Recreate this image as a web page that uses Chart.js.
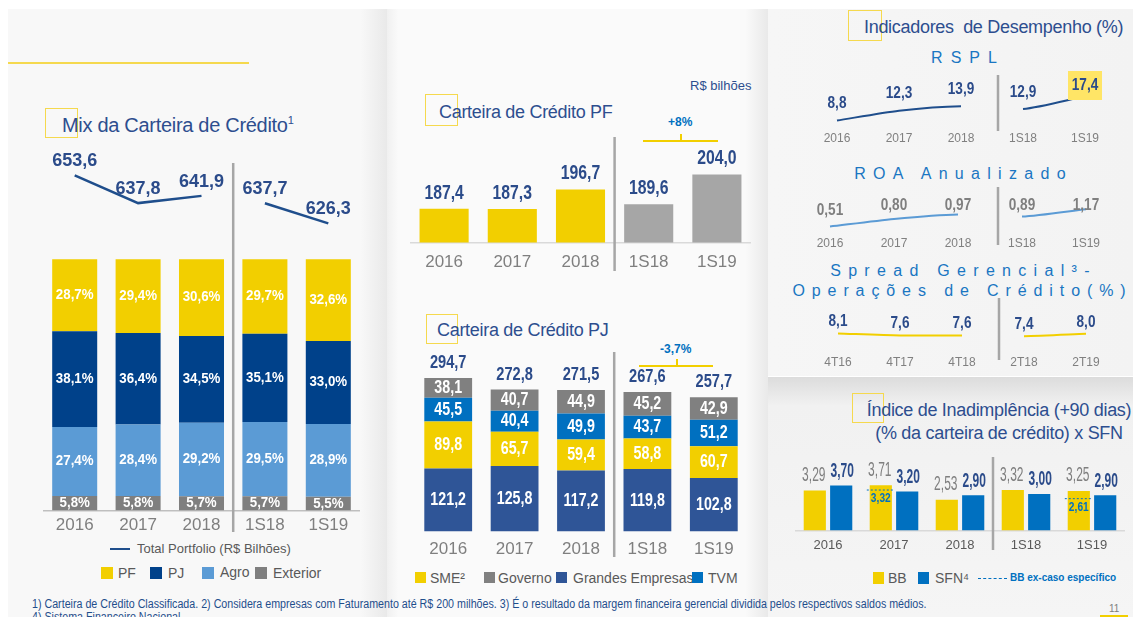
<!DOCTYPE html>
<html>
<head>
<meta charset="utf-8">
<script src="https://cdn.jsdelivr.net/npm/chart.js@4.4.1/dist/chart.umd.min.js"></script>
<style>
  body { margin:0; background:#fff; font-family:'Liberation Sans', Arial, sans-serif; }
  #slide { position:relative; width:1133px; height:617px; overflow:hidden; background:#fff; }
  .panel { position:absolute; }
  canvas { position:absolute; }
  .t { position:absolute; white-space:nowrap; line-height:1; }
  .title { color:#2d4e8f; font-size:18px; letter-spacing:-0.3px; }
  .sq { position:absolute; border:1px solid #f5d94e; box-sizing:border-box; }
  .box { position:absolute; }
  .sub { position:absolute; color:#1a76c2; font-size:16px; letter-spacing:7.3px; text-align:center; white-space:nowrap; line-height:1; }
  .lg { position:absolute; color:#595959; font-size:14px; white-space:nowrap; line-height:1; }
</style>
</head>
<body>
<div id="slide">
  <!-- panels -->
  <div class="panel" style="left:8px;top:9px;width:379px;height:608px;background:linear-gradient(to right,#f8f8f8 0,#f8f8f8 93%,#e9e9e9 100%);"></div>
  <div class="panel" style="left:387px;top:9px;width:381px;height:608px;background:linear-gradient(to right,#f0f0f0 0,#fafafa 3%,#fafafa 94%,#e9e9e9 100%);"></div>
  <div class="panel" style="left:768px;top:9px;width:365px;height:367px;background:linear-gradient(to right,#f6f6f6 0,#f3f3f3 100%);"></div>
  <div class="panel" style="left:768px;top:377px;width:365px;height:240px;background:linear-gradient(to bottom,#dcdcdc 0,#f1f1f1 12%,#f5f5f5 100%);"></div>

  <!-- left panel texts -->
  <div class="box" style="left:8px;top:62px;width:241px;height:1.5px;background:#f5d94e;"></div>
  <div class="sq" style="left:45px;top:108px;width:33px;height:30px;"></div>
  <div class="t title" style="left:62px;top:115px;font-size:20px;">Mix da Carteira de Crédito<sup style="font-size:11px;vertical-align:8px;">1</sup></div>

  <canvas id="mix" width="317" height="391" style="left:43px;top:150px;"></canvas>

  <div class="box" style="left:110px;top:548px;width:20px;height:2px;background:#1f4e8c;"></div>
  <div class="lg" style="left:137px;top:542px;font-size:13px;">Total Portfolio (R$ Bilhões)</div>
  <div class="box" style="left:101px;top:567px;width:12px;height:12px;background:#f2cf00;"></div>
  <div class="lg" style="left:118px;top:566px;">PF</div>
  <div class="box" style="left:150px;top:567px;width:12px;height:12px;background:#00418a;"></div>
  <div class="lg" style="left:168px;top:566px;">PJ</div>
  <div class="box" style="left:202px;top:567px;width:12px;height:12px;background:#5b9bd5;"></div>
  <div class="lg" style="left:220px;top:565px;">Agro</div>
  <div class="box" style="left:255px;top:567px;width:12px;height:12px;background:#7f7f7f;"></div>
  <div class="lg" style="left:273px;top:566px;">Exterior</div>

  <!-- middle panel texts -->
  <div class="t" style="left:690px;top:79px;font-size:13px;color:#2d4e8f;">R$ bilhões</div>
  <div class="sq" style="left:425px;top:94px;width:33px;height:32px;"></div>
  <div class="t title" style="left:439px;top:103px;">Carteira de Crédito PF</div>
  <div class="t" style="left:668px;top:116px;font-size:12px;font-weight:bold;color:#0070c0;">+8%</div>
  <div class="box" style="left:643px;top:140px;width:75px;height:1.5px;background:#f2cf00;"></div>
  <div class="box" style="left:680px;top:134px;width:1.5px;height:7px;background:#f2cf00;"></div>

  <canvas id="pf" width="341" height="153" style="left:410px;top:130px;"></canvas>

  <div class="sq" style="left:426px;top:314px;width:32px;height:30px;"></div>
  <div class="t title" style="left:437px;top:321px;">Carteira de Crédito PJ</div>
  <div class="t" style="left:660px;top:343px;font-size:12px;font-weight:bold;color:#0070c0;">-3,7%</div>
  <div class="box" style="left:639px;top:365px;width:74px;height:1.5px;background:#f2cf00;"></div>
  <div class="box" style="left:676px;top:359px;width:1.5px;height:7px;background:#f2cf00;"></div>

  <canvas id="pj" width="332" height="223" style="left:415px;top:345px;"></canvas>

  <div class="box" style="left:415px;top:572px;width:11px;height:11px;background:#f2cf00;"></div>
  <div class="lg" style="left:430px;top:571px;">SME²</div>
  <div class="box" style="left:484px;top:572px;width:11px;height:11px;background:#808080;"></div>
  <div class="lg" style="left:498px;top:571px;">Governo</div>
  <div class="box" style="left:556px;top:572px;width:11px;height:11px;background:#2f5597;"></div>
  <div class="lg" style="left:573px;top:571px;">Grandes Empresas</div>
  <div class="box" style="left:692px;top:572px;width:11px;height:11px;background:#0070c0;"></div>
  <div class="lg" style="left:708px;top:571px;">TVM</div>

  <!-- right top texts -->
  <div class="sq" style="left:848px;top:10px;width:34px;height:31px;"></div>
  <div class="t title" style="left:864px;top:18px;">Indicadores&nbsp; de Desempenho (%)</div>
  <div class="sub" style="left:860px;top:50px;width:208px;letter-spacing:8px;text-indent:8px;">RSPL</div>
  <div class="sub" style="left:760px;top:166px;width:400px;text-indent:7px;">ROA Anualizado</div>
  <div class="sub" style="left:760px;top:263px;width:400px;text-indent:7px;">Spread Gerencial³-</div>
  <div class="sub" style="left:759px;top:283px;width:400px;letter-spacing:6.9px;text-indent:7px;">Operações de Crédito(%)</div>

  <canvas id="rspl" width="310" height="87" style="left:806px;top:65px;"></canvas>
  <canvas id="roa" width="320" height="71" style="left:798px;top:185px;"></canvas>
  <canvas id="spread" width="310" height="85" style="left:807px;top:295px;"></canvas>

  <!-- right bottom texts -->
  <div class="sq" style="left:852px;top:393px;width:32px;height:30px;"></div>
  <div class="t title" style="left:860px;top:401px;width:278px;text-align:center;">Índice de Inadimplência (+90 dias)</div>
  <div class="t title" style="left:860px;top:424px;width:278px;text-align:center;">(% da carteira de crédito) x SFN</div>

  <canvas id="inad" width="330" height="105" style="left:795px;top:455px;"></canvas>

  <div class="box" style="left:873px;top:572px;width:11px;height:12px;background:#f2cf00;"></div>
  <div class="lg" style="left:888px;top:571px;">BB</div>
  <div class="box" style="left:918px;top:572px;width:11px;height:12px;background:#0070c0;"></div>
  <div class="lg" style="left:935px;top:571px;">SFN⁴</div>
  <div class="box" style="left:978px;top:578px;width:29px;height:0;border-top:1px dashed #0070c0;"></div>
  <div class="t" style="left:1010px;top:573px;font-size:10px;font-weight:bold;color:#0070c0;">BB ex-caso específico</div>

  <!-- footer -->
  <div class="t" style="left:32px;top:598px;font-size:12px;color:#1f4e8c;transform:scaleX(0.89);transform-origin:left top;">1) Carteira de Crédito Classificada. 2) Considera empresas com Faturamento até R$ 200 milhões. 3) É o resultado da margem financeira gerencial dividida pelos respectivos saldos médios.</div>
  <div class="t" style="left:32px;top:611px;font-size:12px;color:#1f4e8c;transform:scaleX(0.89);transform-origin:left top;">4) Sistema Financeiro Nacional</div>
  <div class="t" style="left:1109px;top:604px;font-size:10px;color:#7f7f7f;">11</div>
  <div class="box" style="left:1100px;top:615px;width:28px;height:2px;background:#f2cf00;"></div>
</div>

<script>
// ---- data ----
const periods = ['2016', '2017', '2018', '1S18', '1S19'];

// Mix da Carteira de Crédito (%)
const mixPF = [28.7, 29.4, 30.6, 29.7, 32.6];
const mixPJ = [38.1, 36.4, 34.5, 35.1, 33.0];
const mixAgro = [27.4, 28.4, 29.2, 29.5, 28.9];
const mixExterior = [5.8, 5.8, 5.7, 5.7, 5.5];
const totalPortfolio = [653.6, 637.8, 641.9, 637.7, 626.3];

// Carteira PF (R$ bilhões)
const carteiraPF = [187.4, 187.3, 196.7, 189.6, 204.0];

// Carteira PJ (R$ bilhões)
const pjGrandes = [121.2, 125.8, 117.2, 119.8, 102.8];
const pjSME = [89.8, 65.7, 59.4, 58.8, 60.7];
const pjTVM = [45.5, 40.4, 49.9, 43.7, 51.2];
const pjGoverno = [38.1, 40.7, 44.9, 45.2, 42.9];
const pjTotal = [294.7, 272.8, 271.5, 267.6, 257.7];

// Indicadores (%)
const rspl = [8.8, 12.3, 13.9, 12.9, 17.4];
const roa = [0.51, 0.80, 0.97, 0.89, 1.17];
const spreadPeriods = ['4T16', '4T17', '4T18', '2T18', '2T19'];
const spread = [8.1, 7.6, 7.6, 7.4, 8.0];

// Inadimplência +90 dias (%)
const inadBB = [3.29, 3.71, 2.53, 3.32, 3.25];
const inadSFN = [3.70, 3.20, 2.90, 3.00, 2.90];
const inadBBExCaso = [null, 3.32, null, null, 2.61];

// ---- helpers ----
const FONT = "'Liberation Sans', Arial, sans-serif";
Chart.defaults.font.family = FONT;
Chart.defaults.animation = false;
Chart.defaults.plugins.legend.display = false;
Chart.defaults.plugins.tooltip.enabled = false;

const YELLOW = '#f2cf00', DARK = '#2b4b8a';

function fmt(v, d) { return v.toFixed(d).replace('.', ','); }

// labels in the slide use a condensed face -> squeeze horizontally
function txt(ctx, s, x, y, font, color, sx) {
  ctx.save();
  ctx.font = font + ' ' + FONT;
  ctx.fillStyle = color;
  ctx.textAlign = 'center';
  ctx.textBaseline = 'middle';
  ctx.translate(x, y);
  ctx.scale(sx || 1, 1);
  ctx.fillText(s, 0, 0);
  ctx.restore();
}

function xAxis(size, pad, color, border) {
  return {
    grid: { display: false, drawTicks: false },
    border: { display: !!border, color: border || 'transparent', width: 1.5 },
    ticks: { color: color, padding: pad, font: { size: size }, maxRotation: 0, autoSkip: false }
  };
}

// separator between the yearly and half-year groups + value labels
function overlay(sep, draw) {
  return {
    id: 'overlay',
    afterDatasetsDraw(chart) {
      const ctx = chart.ctx;
      if (sep) {
        const xs = chart.scales.x;
        const sx = (xs.getPixelForValue(2) + xs.getPixelForValue(3)) / 2 + (sep[2] || 0);
        ctx.save();
        ctx.strokeStyle = '#a6a6a6';
        ctx.lineWidth = 2.5;
        ctx.beginPath();
        ctx.moveTo(sx, sep[0]);
        ctx.lineTo(sx, sep[1]);
        ctx.stroke();
        ctx.restore();
      }
      draw(chart, ctx);
    }
  };
}

function skipGap(color) {
  return { borderColor: c => c.p0DataIndex === 2 ? 'rgba(0,0,0,0)' : color };
}

// ---- Mix da Carteira ----
new Chart(document.getElementById('mix'), {
  type: 'bar',
  data: {
    labels: periods,
    datasets: [
      { type: 'line', label: 'Total Portfolio (R$ Bilhões)', data: totalPortfolio, yAxisID: 'y2',
        borderColor: '#1f4e8c', borderWidth: 2.5, pointRadius: 0, order: 0, segment: skipGap('#1f4e8c') },
      { label: 'Exterior', data: mixExterior, backgroundColor: '#7f7f7f', order: 1 },
      { label: 'Agro', data: mixAgro, backgroundColor: '#5b9bd5', order: 1 },
      { label: 'PJ', data: mixPJ, backgroundColor: '#00418a', order: 1 },
      { label: 'PF', data: mixPF, backgroundColor: YELLOW, order: 1 }
    ]
  },
  options: {
    responsive: false,
    datasets: { bar: { categoryPercentage: 0.71, barPercentage: 1, borderWidth: 0 } },
    scales: {
      x: Object.assign({ stacked: true }, xAxis(17, 5, '#7f7f7f', '#bfbfbf')),
      y: { stacked: true, display: false, min: 0, max: 143.4 },
      y2: { display: false, min: 463.2, max: 667.95 }
    }
  },
  plugins: [overlay([13, 382], (chart, ctx) => {
    for (let d = 1; d <= 4; d++) {
      const vals = chart.data.datasets[d].data;
      chart.getDatasetMeta(d).data.forEach((el, i) => {
        txt(ctx, fmt(vals[i], 1) + '%', el.x, (el.y + el.base) / 2, 'bold 14px', '#fff', 0.95);
      });
    }
    chart.getDatasetMeta(0).data.forEach((el, i) => {
      txt(ctx, fmt(totalPortfolio[i], 1), el.x, el.y - 14, 'bold 18px', DARK);
    });
  })]
});

// ---- Carteira PF ----
new Chart(document.getElementById('pf'), {
  type: 'bar',
  data: {
    labels: periods,
    datasets: [{ label: 'Carteira de Crédito PF', data: carteiraPF,
      backgroundColor: periods.map((p, i) => i < 3 ? YELLOW : '#a6a6a6'),
      categoryPercentage: 0.72, barPercentage: 1 }]
  },
  options: {
    responsive: false,
    scales: { x: xAxis(17, 10, '#7f7f7f', '#d9d9d9'), y: { display: false, min: 171, max: 225.6 } }
  },
  plugins: [overlay([7, 141], (chart, ctx) => {
    chart.getDatasetMeta(0).data.forEach((el, i) => {
      txt(ctx, fmt(carteiraPF[i], 1), el.x, el.y - 16, 'bold 21px', DARK, 0.75);
    });
  })]
});

// ---- Carteira PJ ----
new Chart(document.getElementById('pj'), {
  type: 'bar',
  data: {
    labels: periods,
    datasets: [
      { label: 'Grandes Empresas', data: pjGrandes, backgroundColor: '#2f5597' },
      { label: 'SME²', data: pjSME, backgroundColor: YELLOW },
      { label: 'TVM', data: pjTVM, backgroundColor: '#0070c0' },
      { label: 'Governo', data: pjGoverno, backgroundColor: '#808080' }
    ]
  },
  options: {
    responsive: false,
    datasets: { bar: { categoryPercentage: 0.72, barPercentage: 1 } },
    scales: {
      x: Object.assign({ stacked: true }, xAxis(17, 8, '#7f7f7f')),
      y: { stacked: true, display: false, min: 0, max: 357.8 }
    }
  },
  plugins: [overlay([7, 212], (chart, ctx) => {
    chart.data.datasets.forEach((ds, d) => {
      chart.getDatasetMeta(d).data.forEach((el, i) => {
        txt(ctx, fmt(ds.data[i], 1), el.x, (el.y + el.base) / 2, 'bold 19px', '#fff', 0.75);
      });
    });
    const y = chart.scales.y;
    chart.getDatasetMeta(0).data.forEach((el, i) => {
      txt(ctx, fmt(pjTotal[i], 1), el.x, y.getPixelForValue(pjTotal[i]) - 15, 'bold 19px', DARK, 0.77);
    });
  })]
});

// ---- Indicadores: small line charts ----
function miniLine(id, labels, data, color, yMin, yMax, pad, sep, labelColor, off, dec, highlightLast) {
  new Chart(document.getElementById(id), {
    type: 'line',
    data: { labels: labels, datasets: [{ data: data, borderColor: color, borderWidth: 2, pointRadius: 0,
      tension: 0.25, segment: skipGap(color) }] },
    options: {
      responsive: false,
      scales: {
        x: Object.assign({ offset: true }, xAxis(12, pad, '#808080')),
        y: { display: false, min: yMin, max: yMax }
      }
    },
    plugins: [overlay(sep, (chart, ctx) => {
      chart.getDatasetMeta(0).data.forEach((el, i) => {
        const ly = Math.max(el.y - off, 20);
        if (highlightLast && i === data.length - 1) {
          ctx.fillStyle = '#ffe566';
          ctx.fillRect(el.x - 17, ly - 14, 34, 29);
        }
        txt(ctx, fmt(data[i], dec), el.x, ly, 'bold 17px', labelColor, 0.8);
      });
    })]
  });
}

miniLine('rspl', periods, rspl, '#1f4e8c', 7.0, 28.5, 6, [10, 66, 6], DARK, 17, 1, true);
miniLine('roa', periods, roa, '#5b9bd5', 0.318, 2.087, 5, [2, 60, 8], '#7f7f7f', 16, 2, false);
miniLine('spread', spreadPeriods, spread, YELLOW, 5.1, 17.6, 10, [3, 65, 6], DARK, 12, 1, false);

// ---- Inadimplência ----
new Chart(document.getElementById('inad'), {
  type: 'bar',
  data: {
    labels: periods,
    datasets: [
      { label: 'BB', data: inadBB, backgroundColor: YELLOW },
      { label: 'SFN⁴', data: inadSFN, backgroundColor: '#0070c0' }
    ]
  },
  options: {
    responsive: false,
    datasets: { bar: { categoryPercentage: 0.8, barPercentage: 0.84 } },
    scales: { x: xAxis(13, 7, '#595959', '#d9d9d9'), y: { display: false, min: 0, max: 6.2 } }
  },
  plugins: [overlay([2, 95], (chart, ctx) => {
    chart.getDatasetMeta(0).data.forEach((el, i) => {
      txt(ctx, fmt(inadBB[i], 2), el.x - 1, el.y - 15, '20px', '#7f7f7f', 0.6);
    });
    chart.getDatasetMeta(1).data.forEach((el, i) => {
      txt(ctx, fmt(inadSFN[i], 2), el.x + 1, el.y - 14, 'bold 20px', DARK, 0.6);
    });
    const y = chart.scales.y;
    chart.getDatasetMeta(0).data.forEach((el, i) => {
      const v = inadBBExCaso[i];
      if (v == null) return;
      const py = y.getPixelForValue(v);
      ctx.save();
      ctx.strokeStyle = '#0070c0';
      ctx.lineWidth = 1;
      ctx.setLineDash([2, 2]);
      ctx.beginPath();
      ctx.moveTo(el.x - 14, py);
      ctx.lineTo(el.x + 14, py);
      ctx.stroke();
      ctx.restore();
      txt(ctx, fmt(v, 2), el.x, py + 9, 'bold 12px', '#0070c0', 0.85);
    });
  })]
});
</script>
</body>
</html>
